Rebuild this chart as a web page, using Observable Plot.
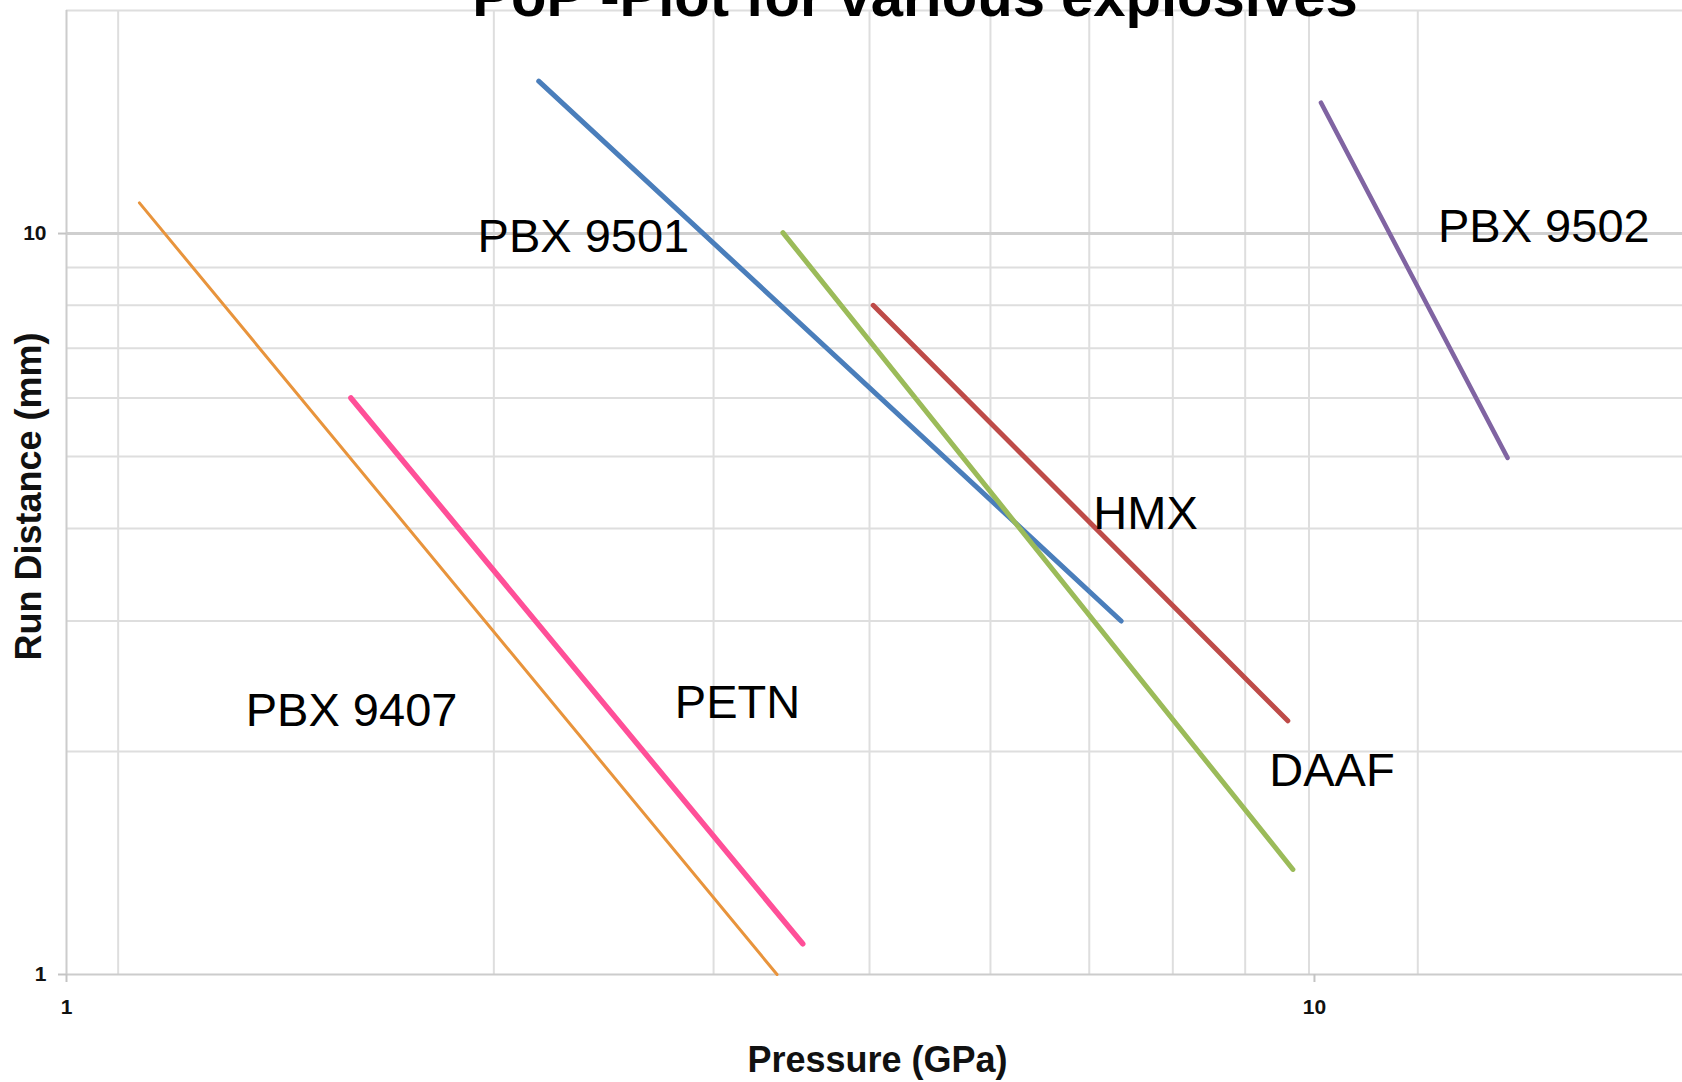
<!DOCTYPE html>
<html>
<head>
<meta charset="utf-8">
<script src="https://cdn.jsdelivr.net/npm/d3@7"></script>
<script src="https://cdn.jsdelivr.net/npm/@observablehq/plot@0.6"></script>
<style>
  html, body { margin: 0; padding: 0; background: white; overflow: hidden; }
  #wrap { position: relative; width: 1682px; height: 1082px; }
  #title { position: absolute; left: 915px; top: -33px; transform: translateX(-50%);
    font: bold 58px "Liberation Sans", Arial, sans-serif; line-height: 1; white-space: nowrap; color: #000; z-index: 2; }
</style>
</head>
<body>
<div id="wrap"><div id="title">PoP -Plot for various explosives</div></div>
<script>
// Series: explosive name, pressure (GPa) and run distance (mm) at the two ends of each line
const names    = ["PBX 9407", "PETN", "PBX 9501", "DAAF", "HMX", "PBX 9502"];
const pStart   = [1.144, 1.69, 2.39, 3.75, 4.43, 10.12];
const rStart   = [11.0, 6.0, 16.06, 10.03, 8.0, 15.02];
const pEnd     = [3.71, 3.89, 7.00, 9.61, 9.52, 14.28];
const rEnd     = [1.0, 1.10, 3.0, 1.386, 2.2, 4.98];
const colors   = ["#e8943c", "#ff4f98", "#4a7ebb", "#9bbb59", "#be4b48", "#8064a2"];
const widths   = [3, 5.5, 5, 5, 5, 4.5];

// Annotation positions (data units)
const labelP   = [1.392, 3.072, 2.135, 9.20, 6.65, 12.56];
const labelR   = [2.27, 2.323, 9.90, 1.884, 4.19, 10.2];

// Ticks and grid
const xTicks = [1, 10];
const yTicks = [1, 10];
const xGrid = [1.1, 2.2, 3.3, 4.4, 5.5, 6.6, 7.7, 8.8, 9.9, 12.1];
const yGrid = [2, 3, 4, 5, 6, 7, 8, 9, 20];
const yMajor = [10];

const segs = names.map((n, i) => ({name: n, x1: pStart[i], y1: rStart[i], x2: pEnd[i], y2: rEnd[i], color: colors[i], w: widths[i]}));
const labels = names.map((n, i) => ({name: n, x: labelP[i], y: labelR[i]}));

const chart = Plot.plot({
  width: 1682,
  height: 1082,
  marginTop: 10,
  marginBottom: 108,
  marginLeft: 66,
  marginRight: 0,
  style: {fontFamily: "'Liberation Sans', Arial, sans-serif", background: "white", color: "#111"},
  x: {type: "log", domain: [1, 19.72]},
  y: {type: "log", domain: [1, 20]},
  color: {type: "identity"},
  marks: [
    Plot.ruleX(xGrid, {stroke: "#dedede", strokeWidth: 2}),
    Plot.ruleY(yGrid, {stroke: "#dedede", strokeWidth: 2}),
    Plot.ruleY(yMajor, {stroke: "#cfcfcf", strokeWidth: 3}),
    Plot.ruleX([1], {stroke: "#cccccc", strokeWidth: 2}),
    Plot.ruleY([1], {stroke: "#cccccc", strokeWidth: 2}),
    Plot.axisX(xTicks, {tickSize: 8, tickPadding: 17, fontSize: 21, fontWeight: "bold", label: null, tickFormat: d => String(d), stroke: "#c4c4c4", strokeWidth: 2}),
    Plot.axisY(yTicks, {tickSize: 8, tickPadding: 12, fontSize: 21, fontWeight: "bold", label: null, tickFormat: d => String(d), stroke: "#c4c4c4", strokeWidth: 2}),
    Plot.link(segs, {x1: "x1", y1: "y1", x2: "x2", y2: "y2", stroke: "color", strokeWidth: "w", strokeLinecap: "round"}),
    Plot.text(labels, {x: "x", y: "y", text: "name", textAnchor: "start", lineAnchor: "middle", fontSize: 47, fill: "#000"}),
    Plot.text(["Run Distance (mm)"], {frameAnchor: "left", textAnchor: "middle", lineAnchor: "middle", rotate: -90, dx: -37, dy: 4, fontSize: 36, fontWeight: "bold", fill: "#111"}),
    Plot.text(["Pressure (GPa)"], {frameAnchor: "bottom", textAnchor: "middle", lineAnchor: "middle", dx: 3, dy: 86, fontSize: 36, fontWeight: "bold", fill: "#111"})
  ]
});
document.getElementById("wrap").appendChild(chart);
</script>
</body>
</html>
